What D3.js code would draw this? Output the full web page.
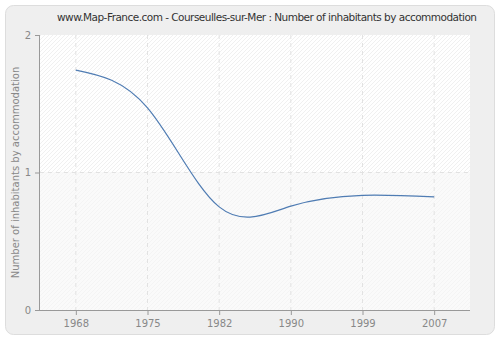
<!DOCTYPE html>
<html><head><meta charset="utf-8">
<script src="https://cdn.jsdelivr.net/npm/d3@7"></script>
<style>body{margin:0;background:#fff}svg{display:block}text{font-family:"DejaVu Sans",Verdana,sans-serif}</style>
</head><body><svg id="c" width="500" height="340"></svg>
<script>
const years = ["1968","1975","1982","1990","1999","2007"];
const values = [1.745, 1.47, 0.75, 0.755, 0.834, 0.822];
const yTicks = [0, 1, 2];
const title = "www.Map-France.com - Courseulles-sur-Mer : Number of inhabitants by accommodation";
const yLabel = "Number of inhabitants by accommodation";

const svg = d3.select("#c");
const L = 40, R = 470, T = 35, B = 310;
const defs = svg.append("defs");
const pat = defs.append("pattern").attr("id","hatch").attr("patternUnits","userSpaceOnUse")
  .attr("width",4).attr("height",4);
pat.append("rect").attr("width",4).attr("height",4).attr("fill","#ffffff");
pat.append("path").attr("d","M-1,1 L1,-1 M0,4 L4,0 M3,5 L5,3").attr("stroke","#ececec").attr("stroke-width",0.8);
const pat2 = defs.append("pattern").attr("id","hatch2").attr("patternUnits","userSpaceOnUse")
  .attr("width",4).attr("height",4);
pat2.append("rect").attr("width",4).attr("height",4).attr("fill","#fafafa");
pat2.append("path").attr("d","M-1,1 L1,-1 M0,4 L4,0 M3,5 L5,3").attr("stroke","#f2f2f2").attr("stroke-width",0.8);

svg.append("rect").attr("x",5.5).attr("y",5.5).attr("width",489).attr("height",329).attr("rx",8)
  .attr("fill","#efefef").attr("stroke","#dddddd");

const x = d3.scalePoint().domain(years).range([L,R]).padding(0.5);
const y = d3.scaleLinear().domain([0,2]).range([B,T]);

svg.append("rect").attr("x",L).attr("y",T).attr("width",R-L).attr("height",y(1)-T).attr("fill","url(#hatch)");
svg.append("rect").attr("x",L).attr("y",y(1)).attr("width",R-L).attr("height",B-y(1)).attr("fill","url(#hatch2)");

const g = svg.append("g");
g.selectAll(".vg").data(years).join("line").attr("x1",d=>x(d)).attr("x2",d=>x(d)).attr("y1",T).attr("y2",B)
  .attr("stroke","#e2e2e2").attr("stroke-dasharray","4,4");
g.selectAll(".hg").data([1]).join("line").attr("x1",L).attr("x2",R).attr("y1",d=>y(d)).attr("y2",d=>y(d))
  .attr("stroke","#e2e2e2").attr("stroke-dasharray","4,4");

const line = d3.line().x((d,i)=>x(years[i])).y(d=>y(d)).curve(d3.curveNatural);
svg.append("path").datum(values).attr("d",line).attr("fill","none").attr("stroke","#4f7cb3").attr("stroke-width",1.2);

const xa = svg.append("g").attr("transform",`translate(0,${B})`).call(d3.axisBottom(x).tickSize(5).tickPadding(5));
const ya = svg.append("g").attr("transform",`translate(${L},0)`).call(d3.axisLeft(y).tickValues(yTicks).tickFormat(d3.format("d")).tickSize(5).tickPadding(4));
[xa,ya].forEach(a=>{
  a.select(".domain").attr("stroke","#999");
  a.selectAll(".tick line").attr("stroke","#999");
  a.selectAll(".tick text").attr("fill","#888").attr("font-size",10).attr("font-family","DejaVu Sans, Verdana, sans-serif");
});
xa.select(".domain").attr("d",`M${L},0.5H${R}`);
ya.select(".domain").attr("d",`M-0.5,${T}V${B}`);

svg.append("text").attr("x",267).attr("y",21).attr("text-anchor","middle").attr("font-size",10.5).attr("fill","#333")
  .attr("textLength",420).text(title);
svg.append("text").attr("transform",`translate(19,${(T+B)/2}) rotate(-90)`).attr("text-anchor","middle")
  .attr("font-size",10).attr("fill","#888").text(yLabel);
</script></body></html>
